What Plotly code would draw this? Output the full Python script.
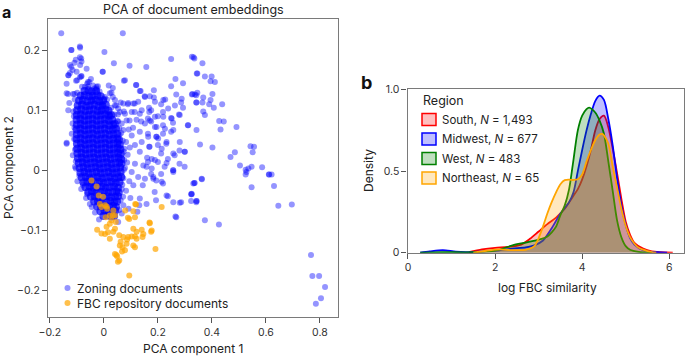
import plotly.graph_objects as go

# ---------------- Panel a data (PCA coordinates) ----------------
zoning_outer = [
    (-0.158, 0.228), (0.070, 0.228), (-0.121, 0.200), (-0.088, 0.204), (0.002, 0.197), (-0.084, 0.186),
    (-0.109, 0.179), (-0.088, 0.175), (-0.121, 0.172), (-0.131, 0.158), (-0.084, 0.156), (-0.103, 0.149),
    (-0.059, 0.147), (0.249, 0.185), (0.332, 0.188), (0.037, 0.178), (0.095, 0.174), (0.157, 0.172),
    (-0.004, 0.164), (0.074, 0.149), (0.120, 0.142), (0.185, 0.133), (0.265, 0.152), (0.293, 0.145),
    (0.249, 0.140), (0.344, 0.161), (-0.022, 0.140), (0.033, 0.137), (-0.133, 0.127), (-0.109, 0.127),
    (0.136, 0.132), (0.151, 0.123), (0.185, 0.121), (0.227, 0.118), (0.268, 0.126), (0.326, 0.126),
    (0.342, 0.125), (0.212, 0.110), (0.286, 0.113), (0.342, 0.113), (0.293, 0.104), (0.278, 0.093),
    (0.249, 0.087), (0.219, 0.097), (0.175, 0.100), (0.200, 0.090), (0.163, 0.086), (0.089, 0.110),
    (0.114, 0.111), (0.074, 0.098), (0.046, 0.108), (0.033, 0.122), (0.002, 0.119), (0.052, 0.093),
    (0.114, 0.097), (0.095, 0.083), (0.138, 0.081), (-0.059, 0.139), (-0.034, 0.136),
    (0.326, 0.189), (0.335, 0.186), (0.365, 0.178), (0.346, 0.161), (0.374, 0.156), (0.399, 0.156),
    (0.395, 0.148), (0.411, 0.147), (0.328, 0.127), (0.337, 0.126), (0.346, 0.129), (0.368, 0.121),
    (0.395, 0.117), (0.365, 0.113), (0.343, 0.113), (0.390, 0.110), (0.402, 0.127), (0.438, 0.110),
    (0.407, 0.104), (0.368, 0.098), (0.374, 0.092), (0.427, 0.082), (0.444, 0.081), (0.432, 0.068),
    (0.491, 0.072), (0.356, 0.043), (0.402, 0.038), (0.485, 0.030), (0.469, 0.022), (0.543, 0.040),
    (0.556, 0.039), (0.551, 0.030), (0.504, 0.008), (0.525, 0.001), (0.535, 0.003), (0.547, 0.006),
    (0.525, -0.007), (0.586, 0.005), (0.611, -0.007), (0.621, -0.007), (0.547, -0.028), (0.630, -0.026),
    (0.646, -0.059), (0.696, -0.057), (0.335, -0.021), (0.363, -0.015), (0.325, -0.039), (0.343, -0.051),
    (0.374, -0.083), (0.426, -0.090), (0.767, -0.141), (0.772, -0.176), (0.797, -0.176), (0.819, -0.194),
    (0.804, -0.213), (0.785, -0.222),
    (-0.126, 0.162), (-0.089, 0.155), (-0.005, 0.164), (-0.138, 0.128), (-0.114, 0.127), (-0.128, 0.112),
    (-0.062, 0.144), (-0.027, 0.139), (0.028, 0.129), (0.078, 0.150), (0.119, 0.142), (0.133, 0.132),
    (0.152, 0.122), (0.170, 0.123), (0.041, 0.108), (0.072, 0.111), (0.090, 0.112), (0.109, 0.111),
    (0.127, 0.114), (0.059, 0.097), (0.078, 0.094), (0.103, 0.097), (0.140, 0.100), (0.168, 0.097),
    (0.189, 0.089), (0.053, 0.081), (0.084, 0.083), (0.121, 0.084), (0.152, 0.078), (0.170, 0.083),
    (0.195, 0.072), (0.201, 0.053), (0.072, 0.067), (0.103, 0.058), (0.133, 0.064), (0.164, 0.056),
    (0.140, 0.047), (0.115, 0.042), (0.168, 0.039), (0.133, 0.031), (0.160, 0.021), (0.189, 0.017),
    (0.146, 0.008), (0.177, 0.003), (0.115, 0.011), (0.103, -0.003), (0.127, -0.011), (0.152, -0.014),
    (0.183, -0.014), (0.109, -0.025), (0.133, -0.047), (0.158, -0.056), (-0.138, 0.046), (-0.104, 0.003),
    (-0.116, 0.078), (0.053, -0.086),
    (0.175, 0.081), (0.219, 0.075), (0.256, 0.079), (0.311, 0.075), (0.163, 0.061), (0.194, 0.056),
    (0.219, 0.061), (0.249, 0.064), (0.231, 0.044), (0.200, 0.042), (0.169, 0.039), (0.280, 0.033),
    (0.299, 0.031), (0.262, 0.025), (0.212, 0.028), (0.237, 0.019), (0.200, 0.014), (0.163, 0.014),
    (0.280, 0.011), (0.225, 0.006), (0.256, 0.000), (0.175, -0.006), (0.212, -0.006), (0.299, 0.006),
    (0.336, -0.021), (0.194, -0.017), (0.219, -0.022), (0.144, -0.025), (0.188, -0.036), (0.237, -0.043),
    (0.286, -0.053), (0.268, -0.078), (0.323, -0.040), (0.323, -0.051), (0.342, -0.053),
    (0.133, 0.094), (0.167, 0.104), (0.189, 0.114), (0.220, 0.117), (0.238, 0.103), (0.263, 0.108),
    (0.288, 0.119), (0.220, 0.089), (0.251, 0.086), (0.281, 0.092), (0.189, 0.072), (0.226, 0.069),
    (0.257, 0.067), (0.195, 0.056), (0.232, 0.047), (0.281, 0.047), (0.312, 0.075), (0.343, 0.067),
    (0.214, 0.036), (0.257, 0.028), (0.300, 0.031), (0.177, 0.019), (0.232, 0.012), (0.158, 0.006),
    (0.257, 0.000), (0.183, -0.011), (0.214, -0.019), (0.257, -0.003), (0.331, -0.022), (0.362, -0.014),
    (0.232, -0.042), (0.257, -0.053), (0.281, -0.054), (0.265, -0.077), (0.325, -0.040), (0.343, -0.051),
    (0.528, -0.003), (0.612, -0.007), (0.193, -0.050),
    (-0.089, 0.206), (-0.120, 0.200), (-0.089, 0.188), (-0.083, 0.181), (-0.104, 0.184), (-0.126, 0.175),
    (-0.116, 0.167), (-0.132, 0.158), (-0.101, 0.164), (-0.064, 0.169), (-0.054, 0.147), (-0.070, 0.139),
    (-0.138, 0.144), (-0.099, 0.150), (-0.083, 0.157), (-0.027, 0.136), (0.004, 0.122), (0.022, 0.128),
    (-0.009, 0.111), (0.041, 0.117), (-0.015, 0.097), (0.022, 0.092), (0.053, 0.103), (-0.040, 0.117),
    (-0.132, 0.100), (-0.138, 0.044), (-0.107, 0.006),
    (0.072, -0.058), (0.091, -0.064), (0.124, -0.069), (0.131, -0.058), (0.098, -0.046), (0.066, -0.072),
    (0.082, -0.034), (0.094, -0.018), (0.078, 0.004), (0.088, 0.026), (0.082, 0.047), (0.076, 0.036),
    (0.068, -0.024), (0.071, -0.044), (0.086, 0.013), (0.096, 0.038), (0.108, 0.071), (0.092, 0.068),
    (0.066, 0.078), (0.058, 0.059), (0.062, 0.113), (0.018, 0.141), (-0.048, 0.152), (-0.113, 0.098),
    (-0.119, 0.061), (-0.115, 0.025), (-0.098, -0.018), (-0.084, -0.031), (-0.066, -0.046), (-0.045, -0.061),
    (-0.108, 0.118), (-0.111, 0.090), (-0.109, 0.071), (-0.110, 0.052), (-0.107, 0.034), (-0.104, 0.015),
    (-0.099, 0.129), (-0.081, 0.139), (-0.040, 0.141), (-0.016, 0.131), (0.012, 0.118), (0.027, 0.104),
    (0.039, 0.093), (0.050, 0.082), (0.057, 0.070), (0.064, 0.062), (0.070, 0.049), (0.073, 0.031),
    (0.075, 0.017), (0.074, 0.001), (0.072, -0.013), (0.066, -0.031), (0.062, -0.050), (0.057, -0.066),
    (-0.091, -0.009), (-0.078, -0.024), (-0.062, -0.040), (-0.052, -0.056), (-0.033, -0.070), (-0.018, -0.082),
]

zoning_core = [
    (-0.072, 0.132), (-0.057, 0.133), (-0.045, 0.131), (-0.029, 0.132),
    (-0.086, 0.124), (-0.071, 0.125), (-0.055, 0.123), (-0.041, 0.124), (-0.024, 0.125), (-0.012, 0.123),
    (-0.092, 0.116), (-0.078, 0.117), (-0.062, 0.115), (-0.047, 0.116), (-0.031, 0.117), (-0.017, 0.115), (-0.003, 0.116),
    (-0.097, 0.108), (-0.081, 0.109), (-0.066, 0.107), (-0.052, 0.108), (-0.036, 0.109), (-0.021, 0.107), (-0.006, 0.108), (0.007, 0.109),
    (-0.099, 0.100), (-0.084, 0.101), (-0.069, 0.099), (-0.054, 0.100), (-0.039, 0.101), (-0.024, 0.099), (-0.009, 0.100), (0.005, 0.101), (0.017, 0.099),
    (-0.100, 0.092), (-0.086, 0.093), (-0.071, 0.091), (-0.056, 0.092), (-0.041, 0.093), (-0.026, 0.091), (-0.011, 0.092), (0.004, 0.093), (0.018, 0.091), (0.027, 0.092),
    (-0.101, 0.084), (-0.087, 0.085), (-0.072, 0.083), (-0.057, 0.084), (-0.042, 0.085), (-0.027, 0.083), (-0.012, 0.084), (0.003, 0.085), (0.018, 0.083), (0.031, 0.084),
    (-0.100, 0.076), (-0.086, 0.077), (-0.071, 0.075), (-0.056, 0.076), (-0.041, 0.077), (-0.026, 0.075), (-0.011, 0.076), (0.004, 0.077), (0.019, 0.075), (0.034, 0.076), (0.041, 0.077),
    (-0.101, 0.068), (-0.087, 0.069), (-0.072, 0.067), (-0.057, 0.068), (-0.042, 0.069), (-0.027, 0.067), (-0.012, 0.068), (0.003, 0.069), (0.018, 0.067), (0.033, 0.068), (0.045, 0.069),
    (-0.100, 0.060), (-0.085, 0.061), (-0.070, 0.059), (-0.055, 0.060), (-0.040, 0.061), (-0.025, 0.059), (-0.010, 0.060), (0.005, 0.061), (0.020, 0.059), (0.035, 0.060), (0.049, 0.061),
    (-0.101, 0.052), (-0.086, 0.053), (-0.071, 0.051), (-0.056, 0.052), (-0.041, 0.053), (-0.026, 0.051), (-0.011, 0.052), (0.004, 0.053), (0.019, 0.051), (0.034, 0.052), (0.049, 0.053), (0.056, 0.051),
    (-0.100, 0.044), (-0.085, 0.045), (-0.070, 0.043), (-0.055, 0.044), (-0.040, 0.045), (-0.025, 0.043), (-0.010, 0.044), (0.005, 0.045), (0.020, 0.043), (0.035, 0.044), (0.050, 0.045), (0.059, 0.043),
    (-0.099, 0.036), (-0.084, 0.037), (-0.069, 0.035), (-0.054, 0.036), (-0.039, 0.037), (-0.024, 0.035), (-0.009, 0.036), (0.006, 0.037), (0.021, 0.035), (0.036, 0.036), (0.051, 0.037), (0.061, 0.035),
    (-0.098, 0.028), (-0.083, 0.029), (-0.068, 0.027), (-0.053, 0.028), (-0.038, 0.029), (-0.023, 0.027), (-0.008, 0.028), (0.007, 0.029), (0.022, 0.027), (0.037, 0.028), (0.052, 0.029), (0.063, 0.027),
    (-0.096, 0.020), (-0.081, 0.021), (-0.066, 0.019), (-0.051, 0.020), (-0.036, 0.021), (-0.021, 0.019), (-0.006, 0.020), (0.009, 0.021), (0.024, 0.019), (0.039, 0.020), (0.054, 0.021), (0.064, 0.019),
    (-0.093, 0.012), (-0.078, 0.013), (-0.063, 0.011), (-0.048, 0.012), (-0.033, 0.013), (-0.018, 0.011), (-0.003, 0.012), (0.012, 0.013), (0.027, 0.011), (0.042, 0.012), (0.057, 0.013), (0.065, 0.011),
    (-0.090, 0.004), (-0.075, 0.005), (-0.060, 0.003), (-0.045, 0.004), (-0.030, 0.005), (-0.015, 0.003), (0.000, 0.004), (0.015, 0.005), (0.030, 0.003), (0.045, 0.004), (0.060, 0.005),
    (-0.087, -0.004), (-0.072, -0.003), (-0.057, -0.005), (-0.042, -0.004), (-0.027, -0.003), (-0.012, -0.005), (0.003, -0.004), (0.018, -0.003), (0.033, -0.005), (0.048, -0.004), (0.062, -0.003),
    (-0.082, -0.012), (-0.067, -0.011), (-0.052, -0.013), (-0.037, -0.012), (-0.022, -0.011), (-0.007, -0.013), (0.008, -0.012), (0.023, -0.011), (0.038, -0.013), (0.053, -0.012), (0.064, -0.011),
    (-0.076, -0.020), (-0.061, -0.019), (-0.046, -0.021), (-0.031, -0.020), (-0.016, -0.019), (-0.001, -0.021), (0.014, -0.020), (0.029, -0.019), (0.044, -0.021), (0.058, -0.020),
    (-0.068, -0.028), (-0.053, -0.027), (-0.038, -0.029), (-0.023, -0.028), (-0.008, -0.027), (0.007, -0.029), (0.022, -0.028), (0.037, -0.027), (0.052, -0.029),
    (-0.058, -0.036), (-0.044, -0.035), (-0.029, -0.037), (-0.014, -0.036), (0.001, -0.035), (0.016, -0.037), (0.031, -0.036), (0.046, -0.035), (0.055, -0.037),
    (-0.048, -0.044), (-0.034, -0.043), (-0.019, -0.045), (-0.004, -0.044), (0.011, -0.043), (0.026, -0.045), (0.041, -0.044), (0.052, -0.043),
    (-0.036, -0.052), (-0.022, -0.051), (-0.007, -0.053), (0.008, -0.052), (0.023, -0.051), (0.038, -0.053), (0.049, -0.052),
    (-0.025, -0.060), (-0.011, -0.059), (0.004, -0.061), (0.019, -0.060), (0.034, -0.059), (0.045, -0.061),
    (-0.013, -0.068), (0.002, -0.067), (0.017, -0.069), (0.032, -0.068), (0.042, -0.067),
    (-0.002, -0.076), (0.013, -0.075), (0.028, -0.077), (0.038, -0.076),
]

fbc_points = [
    (-0.046, -0.017), (-0.027, -0.027), (-0.019, -0.042), (-0.003, -0.044), (-0.015, -0.056), (0.004, -0.058),
    (-0.009, -0.061), (0.010, -0.060), (0.035, -0.067), (0.041, -0.075), (0.022, -0.075), (0.028, -0.083),
    (0.044, -0.086), (0.007, -0.078), (0.119, -0.057), (0.109, -0.068), (0.115, -0.078), (0.094, -0.081),
    (0.214, -0.061), (0.170, -0.088), (0.177, -0.100), (-0.025, -0.099), (-0.009, -0.105), (0.004, -0.106),
    (0.015, -0.103), (0.035, -0.102), (0.041, -0.097), (0.022, -0.114), (0.057, -0.108), (0.072, -0.111),
    (0.090, -0.111), (0.103, -0.110), (0.115, -0.110), (0.121, -0.114), (0.109, -0.097), (0.140, -0.099),
    (0.146, -0.106), (0.143, -0.111), (0.121, -0.102), (0.062, -0.119), (0.069, -0.128), (0.078, -0.133),
    (0.059, -0.125), (0.084, -0.122), (0.041, -0.139), (0.049, -0.143), (0.057, -0.150), (0.109, -0.125),
    (0.115, -0.128), (0.191, -0.131), (0.094, -0.175), (0.010, -0.094), (0.022, -0.089), (0.079, -0.067),
    (0.116, -0.056), (0.089, -0.079), (0.012, -0.064), (0.033, -0.075), (0.086, -0.115), (0.175, -0.102),
    (0.169, -0.087), (0.046, -0.141), (0.052, -0.152), (0.067, -0.135),
]

# ---------------- Panel b data (KDE curves) ----------------
south_x = [1.4, 1.7, 2.0, 2.3, 2.6, 2.8, 3.0, 3.2, 3.4, 3.6, 3.8, 3.9, 4.0, 4.1, 4.2, 4.3, 4.4, 4.5,
           4.6, 4.7, 4.8, 4.9, 5.0, 5.1, 5.2, 5.4, 5.6, 5.8, 6.08]
south_y = [0.003, 0.02, 0.03, 0.035, 0.05, 0.085, 0.13, 0.175, 0.215, 0.27, 0.35, 0.39, 0.45, 0.53, 0.63,
           0.75, 0.82, 0.84, 0.77, 0.64, 0.49, 0.33, 0.19, 0.11, 0.06, 0.025, 0.008, 0.003, 0.0]

midwest_x = [0.28, 0.5, 0.8, 1.1, 1.4, 1.8, 2.1, 2.4, 2.7, 2.9, 3.1, 3.3, 3.5, 3.7, 3.8, 3.9, 4.0, 4.1,
             4.2, 4.3, 4.4, 4.5, 4.6, 4.7, 4.8, 4.9, 5.0, 5.1, 5.2, 5.4, 5.6, 5.8, 5.95]
midwest_y = [0.0, 0.008, 0.016, 0.006, 0.004, 0.01, 0.015, 0.025, 0.033, 0.045, 0.075, 0.15, 0.24, 0.31,
             0.37, 0.50, 0.63, 0.75, 0.85, 0.93, 0.963, 0.937, 0.82, 0.66, 0.46, 0.29, 0.17, 0.09, 0.05,
             0.015, 0.005, 0.002, 0.0]

west_x = [0.28, 0.8, 1.5, 2.0, 2.4, 2.7, 3.0, 3.2, 3.3, 3.4, 3.5, 3.6, 3.7, 3.8, 3.9, 4.0, 4.1, 4.16,
          4.3, 4.4, 4.5, 4.6, 4.7, 4.8, 4.9, 5.0, 5.1, 5.3, 5.6]
west_y = [0.0, 0.003, 0.003, 0.012, 0.045, 0.062, 0.08, 0.1, 0.125, 0.16, 0.23, 0.29, 0.39, 0.57, 0.75,
          0.84, 0.88, 0.89, 0.86, 0.81, 0.73, 0.56, 0.38, 0.20, 0.095, 0.04, 0.018, 0.005, 0.0]

northeast_x = [1.5, 1.8, 2.1, 2.4, 2.7, 2.9, 3.0, 3.1, 3.2, 3.3, 3.4, 3.5, 3.6, 3.7, 3.8, 3.9, 4.0, 4.1,
               4.2, 4.3, 4.4, 4.46, 4.5, 4.6, 4.7, 4.8, 4.9, 5.0, 5.1, 5.2, 5.3, 5.5, 5.7]
northeast_y = [0.0, 0.012, 0.02, 0.016, 0.018, 0.04, 0.09, 0.16, 0.24, 0.31, 0.37, 0.42, 0.445, 0.448,
               0.446, 0.45, 0.48, 0.56, 0.63, 0.69, 0.725, 0.728, 0.72, 0.67, 0.53, 0.40, 0.27, 0.165,
               0.095, 0.055, 0.03, 0.01, 0.0]

region_names = ["South, <i>N</i> = 1,493", "Midwest, <i>N</i> = 677",
                "West, <i>N</i> = 483", "Northeast, <i>N</i> = 65"]
region_colors = ["#ff0000", "#0000ff", "#008000", "#ffa500"]
region_fills = ["rgba(255,0,0,0.25)", "rgba(0,0,255,0.25)", "rgba(0,128,0,0.25)", "rgba(255,165,0,0.25)"]

FONT = "Inter"
W, H = 685, 356


def px(x):
    return x / W


def py(y):
    return 1 - y / H


fig = go.Figure()

# Panel a scatter
fig.add_trace(go.Scatter(
    x=[p[0] for p in zoning_core], y=[p[1] for p in zoning_core], mode="markers",
    marker=dict(color="#0000ff", size=8, opacity=0.7, line=dict(width=0)),
    showlegend=False, hoverinfo="skip", xaxis="x", yaxis="y"))
fig.add_trace(go.Scatter(
    x=[p[0] for p in zoning_outer], y=[p[1] for p in zoning_outer], mode="markers",
    marker=dict(color="#0000ff", size=6, opacity=0.42, line=dict(width=0)),
    showlegend=False, xaxis="x", yaxis="y"))
fig.add_trace(go.Scatter(
    x=[p[0] for p in fbc_points], y=[p[1] for p in fbc_points], mode="markers",
    marker=dict(color="#ffa500", size=6, opacity=0.7, line=dict(width=0)),
    showlegend=False, xaxis="x", yaxis="y"))

# Panel b KDEs
series = [(south_x, south_y), (midwest_x, midwest_y), (west_x, west_y), (northeast_x, northeast_y)]
for (sx, sy), col, fc in zip(series, region_colors, region_fills):
    fig.add_trace(go.Scatter(
        x=sx, y=sy, mode="lines", line=dict(color=col, width=1.8, shape="spline", smoothing=0.8),
        fill="tozeroy", fillcolor=fc, showlegend=False, xaxis="x2", yaxis="y2"))

axis_common = dict(showline=True, mirror=True, linecolor="#7a7a7a", linewidth=1.2, ticks="outside",
                   ticklen=5, tickcolor="#555555", showgrid=False, zeroline=False, automargin=False,
                   tickfont=dict(family=FONT, size=10.5, color="#333333"))

fig.update_layout(
    template="none",
    width=W, height=H, margin=dict(l=0, r=0, t=0, b=0, pad=0, autoexpand=False),
    plot_bgcolor="white", paper_bgcolor="white",
    font=dict(family=FONT, color="#222222"),
    xaxis=dict(domain=[px(48), px(338)], range=[-0.207, 0.867], dtick=0.2, tick0=0, anchor="y", **axis_common),
    yaxis=dict(domain=[py(317), py(19)], range=[-0.244, 0.2517], dtick=0.1, tick0=0, anchor="x", **axis_common),
    xaxis2=dict(domain=[px(407.5), px(684)], range=[-0.011, 6.338], dtick=2, tick0=0, anchor="y2", **axis_common),
    yaxis2=dict(domain=[py(252.7), py(89)], range=[0, 1.004], tickvals=[0, 0.5, 1.0],
                ticktext=["0", "0.5", "1.0"], anchor="x2", **axis_common),
)

ann = []
# panel letters
ann.append(dict(text="<b>a</b>", x=px(0), y=py(0), xanchor="left", yanchor="top",
                font=dict(size=16, family=FONT, color="#111")))
ann.append(dict(text="<b>b</b>", x=px(359), y=py(70), xanchor="left", yanchor="top",
                font=dict(size=18, family=FONT, color="#111")))
# titles
ann.append(dict(text="PCA of document embeddings", x=px(193), y=py(9), xanchor="center", yanchor="middle",
                font=dict(size=12.5, family=FONT, color="#222")))
ann.append(dict(text="PCA component 1", x=px(193), y=py(348), xanchor="center", yanchor="middle",
                font=dict(size=12, family=FONT, color="#222")))
ann.append(dict(text="PCA component 2", x=px(8), y=py(168), xanchor="center", yanchor="middle",
                textangle=-90, font=dict(size=12, family=FONT, color="#222")))
ann.append(dict(text="Density", x=px(368), y=py(171), xanchor="center", yanchor="middle",
                textangle=-90, font=dict(size=12, family=FONT, color="#222")))
ann.append(dict(text="log FBC similarity", x=px(547), y=py(287), xanchor="center", yanchor="middle",
                font=dict(size=12, family=FONT, color="#222")))
# panel a legend
ann.append(dict(text="Zoning documents", x=px(75), y=py(288), xanchor="left", yanchor="middle",
                font=dict(size=12, family=FONT, color="#222")))
ann.append(dict(text="FBC repository documents", x=px(75), y=py(303), xanchor="left", yanchor="middle",
                font=dict(size=12, family=FONT, color="#222")))
# panel b legend
ann.append(dict(text="Region", x=px(421), y=py(100), xanchor="left", yanchor="middle",
                font=dict(size=12.5, family=FONT, color="#222")))
row_y = [119.5, 139, 158.5, 178]
for name, yy in zip(region_names, row_y):
    ann.append(dict(text=name, x=px(440), y=py(yy), xanchor="left", yanchor="middle",
                    font=dict(size=11.5, family=FONT, color="#222")))
for a in ann:
    a.update(xref="paper", yref="paper", showarrow=False)
fig.update_layout(annotations=ann)

shapes = []
shapes.append(dict(type="circle", x0=px(64.5), x1=px(70.5), y0=py(291), y1=py(285),
                   fillcolor="rgba(0,0,255,0.42)", line=dict(width=0)))
shapes.append(dict(type="circle", x0=px(64.5), x1=px(70.5), y0=py(306), y1=py(300),
                   fillcolor="rgba(255,165,0,0.7)", line=dict(width=0)))
for col, fc, yy in zip(region_colors, region_fills, row_y):
    shapes.append(dict(type="rect", x0=px(422), x1=px(436), y0=py(yy + 6), y1=py(yy - 6),
                       fillcolor=fc, line=dict(color=col, width=1.5)))
for s in shapes:
    s.update(xref="paper", yref="paper")
fig.update_layout(shapes=shapes)

fig.write_html("out.html", config={"responsive": False, "displayModeBar": False},
               post_script="document.body.style.margin='0';document.body.style.padding='0';")
